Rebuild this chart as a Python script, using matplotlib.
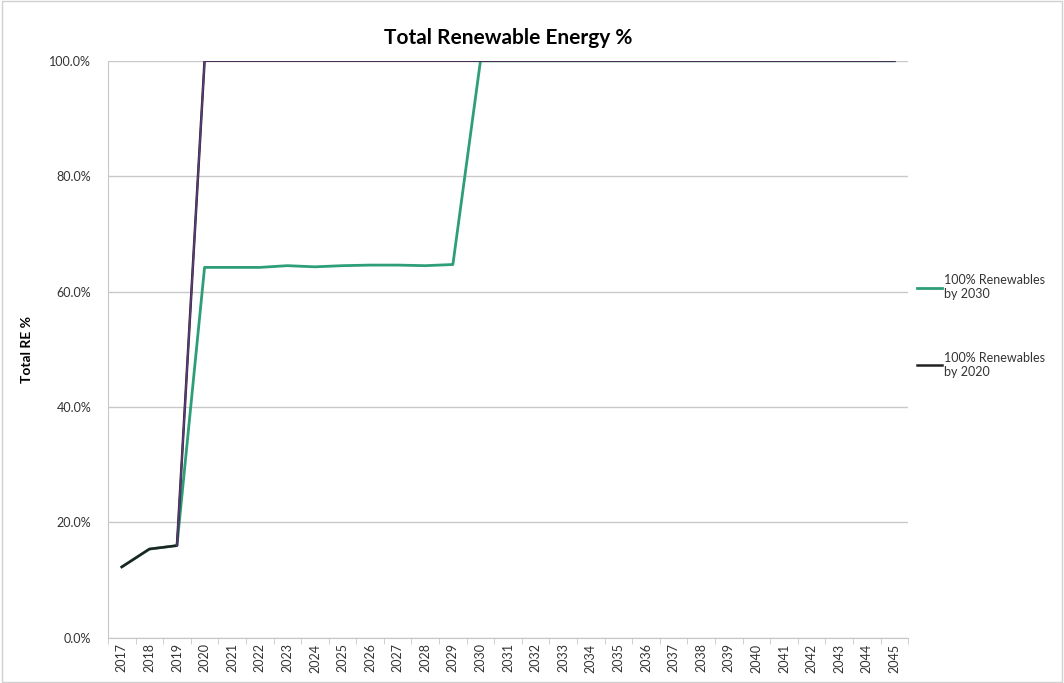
import numpy as np
import matplotlib.pyplot as plt
from matplotlib.ticker import FuncFormatter, MultipleLocator

years = [str(y) for y in range(2017, 2046)]
re_2030 = [12.3, 15.4, 16.0, 64.2, 64.2, 64.2, 64.5, 64.3, 64.5, 64.6, 64.6, 64.5, 64.7,
           100, 100, 100, 100, 100, 100, 100, 100, 100, 100, 100, 100, 100, 100, 100, 100]
re_2020 = [12.3, 15.4, 16.0, 100, 100, 100, 100, 100, 100, 100, 100, 100, 100,
           100, 100, 100, 100, 100, 100, 100, 100, 100, 100, 100, 100, 100, 100, 100, 100]

plt.rcParams['font.family'] = ['Lato', 'DejaVu Sans']

fig = plt.figure(figsize=(10.64, 6.83), dpi=100)
ax = fig.add_axes([0.1015, 0.066, 0.752, 0.845])

x = np.arange(len(years))
ax.plot(x, re_2030, color='#2e9e78', lw=2, label='100% Renewables\nby 2030', zorder=2)
ax.plot(x, re_2020, color='#222222', lw=1.8, label='100% Renewables\nby 2020', zorder=3)
# purple overlay on the 2020 scenario once it jumps to 100%
ax.plot(x[2:], re_2020[2:], color='#5b3a7a', lw=1.2, zorder=4)

ax.set_ylim(0, 100)
ax.set_xlim(-0.5, len(years) - 0.5)
ax.yaxis.set_major_locator(MultipleLocator(20))
ax.yaxis.set_major_formatter(FuncFormatter(lambda v, p: f"{v:.1f}%"))
ax.grid(axis='y', color='#c8c8c8', lw=1)
ax.set_axisbelow(True)

ax.set_xticks(x)
ax.set_xticklabels(years, rotation=90, fontsize=9, color='#333333')
ax.set_xticks(np.arange(-0.5, len(years), 1), minor=True)
ax.tick_params(axis='x', which='major', length=0, pad=4)
ax.tick_params(axis='x', which='minor', length=4, color='#c8c8c8')
ax.tick_params(axis='y', length=0, labelsize=9, labelcolor='#333333', pad=12)

for s in ['top', 'right']:
    ax.spines[s].set_visible(False)
for s in ['left', 'bottom']:
    ax.spines[s].set_color('#c8c8c8')

ax.set_ylabel('Total RE %', fontsize=10, fontweight='bold', labelpad=12)
ax.set_title('Total Renewable Energy %', fontsize=15, fontweight='bold', pad=12)

leg = ax.legend(loc='upper left', bbox_to_anchor=(1.0, 0.645), frameon=False,
                fontsize=9, labelspacing=4.1, handlelength=2.0, handletextpad=0.2,
                borderaxespad=0.3)
for t in leg.get_texts():
    t.set_color('#333333')

fig.patches.append(plt.Rectangle((0.002, 0.002), 0.996, 0.996, transform=fig.transFigure,
                                 fill=False, edgecolor='#d0d0d0', lw=1))

fig.savefig('out.png', dpi=100)
